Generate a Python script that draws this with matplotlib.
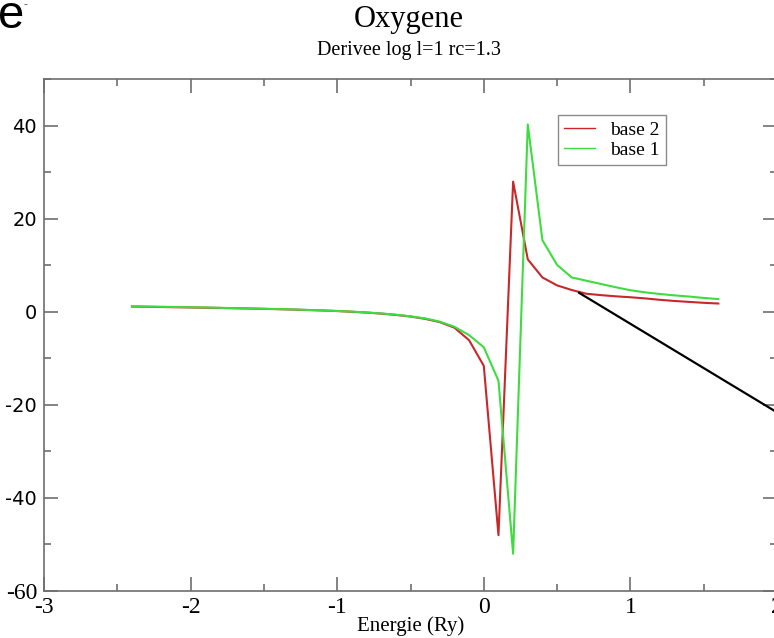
import matplotlib
matplotlib.use("Agg")
import matplotlib.pyplot as plt
from matplotlib.ticker import MultipleLocator

# ---- data ----
energy = [-2.4, -2.3, -2.2, -2.1, -2.0, -1.9, -1.8, -1.7, -1.6, -1.5, -1.4,
          -1.3, -1.2, -1.1, -1.0, -0.9, -0.8, -0.7, -0.6, -0.5, -0.4, -0.3,
          -0.2, -0.1, 0.0, 0.1, 0.2, 0.3, 0.4, 0.5, 0.6, 0.7, 0.8, 0.9, 1.0,
          1.1, 1.2, 1.3, 1.4, 1.5, 1.6]
base2 = [1.15, 1.1, 1.05, 1.0, 0.95, 0.9, 0.85, 0.78, 0.72, 0.65, 0.58,
         0.5, 0.4, 0.3, 0.18, 0.03, -0.15, -0.37, -0.65, -1.0, -1.5, -2.2,
         -3.4, -6.1, -11.6, -48.0, 28.0, 11.3, 7.4, 5.7, 4.7, 3.9, 3.6, 3.35,
         3.15, 2.9, 2.6, 2.35, 2.15, 1.95, 1.8]
base1 = [1.2, 1.15, 1.1, 1.05, 1.0, 0.95, 0.88, 0.8, 0.74, 0.67, 0.6,
         0.52, 0.42, 0.32, 0.2, 0.05, -0.12, -0.33, -0.6, -0.95, -1.4, -2.1,
         -3.2, -5.0, -7.6, -14.8, -52.0, 40.3, 15.4, 10.1, 7.4, 6.7, 6.0, 5.3,
         4.65, 4.2, 3.85, 3.55, 3.3, 3.0, 2.75]
series_labels = ["base 2", "base 1"]
arrow_x = [0.65, 2.1]
arrow_y = [4.1, -23.5]
xticks = [-3, -2, -1, 0, 1, 2]
yticks = [-60, -40, -20, 0, 20, 40]

serif = ["Liberation Serif", "DejaVu Serif"]
sans = ["DejaVu Sans"]

fig = plt.figure(figsize=(7.74, 6.38), dpi=100)
ax = fig.add_axes([44 / 774, 47 / 638, 733 / 774, 511.7 / 638])

ax.plot(energy, base2, color="#c8282a", lw=1.5, label=series_labels[0])
ax.plot(energy, base1, color="#3fdc3f", lw=1.5, label=series_labels[1])
ax.plot(arrow_x, arrow_y, color="black", lw=1.6, clip_on=False)

ax.set_xlim(-3, 2)
ax.set_ylim(-60, 50)
ax.set_xticks(xticks)
ax.set_yticks(yticks)
ax.xaxis.set_minor_locator(MultipleLocator(0.5))
ax.yaxis.set_minor_locator(MultipleLocator(10))

ax.set_xticklabels([str(v) for v in xticks], fontfamily=serif, fontsize=17)
ylabels = ax.set_yticklabels([str(v) for v in yticks], fontsize=14, fontfamily=sans)
for lab in ylabels:
    if lab.get_text() == "-60":
        lab.set_fontfamily(serif)
        lab.set_fontsize(17)

for sp in ax.spines.values():
    sp.set_color("#6e6e6e")
    sp.set_linewidth(1.2)
ax.tick_params(which="both", direction="in", top=True, right=True,
               color="#6e6e6e", width=1.2)
ax.tick_params(which="major", length=10, pad=5)
ax.tick_params(which="minor", length=5)
ax.tick_params(axis="x", pad=4)

ax.set_xlabel("Energie (Ry)", fontfamily=serif, fontsize=15, labelpad=-1)

fig.text(409 / 774, 1 - 20 / 638, "Oxygene", fontfamily=serif, fontsize=22,
         ha="center", va="center")
fig.text(409 / 774, 1 - 51 / 638, "Derivee log l=1 rc=1.3", fontfamily=serif,
         fontsize=14.5, ha="center", va="center")
fig.text(-0.002, 1 - 16 / 638, "e", fontfamily=["Liberation Sans"], fontsize=34,
         ha="left", va="center")
fig.text(24 / 774, 1 - 5 / 638, "-", fontfamily=["Liberation Sans"], fontsize=9,
         ha="left", va="center", color="#555555")

leg = ax.legend(loc="upper left", bbox_to_anchor=(0.701, 0.93),
                prop={"family": serif, "size": 14}, frameon=True,
                fancybox=False, handlelength=1.6, handletextpad=0.8,
                borderpad=0.3, labelspacing=0.15, borderaxespad=0)
leg.get_frame().set_edgecolor("#6e6e6e")
leg.get_frame().set_linewidth(1.0)
for line in leg.get_lines():
    line.set_linewidth(1.0)

fig.savefig("out.png", dpi=100)
